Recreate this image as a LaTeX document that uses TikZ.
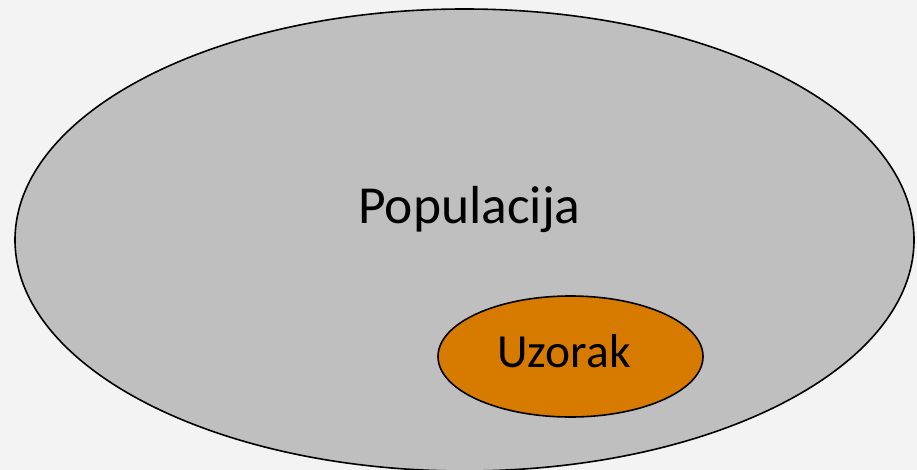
\documentclass[tikz,border=0pt]{standalone}
\usepackage{fontspec}
\setmainfont{Carlito}
\usetikzlibrary{shapes.geometric}
\definecolor{popgray}{HTML}{BFBFBF}
\definecolor{uzorange}{HTML}{D67B00}
\definecolor{bgpaper}{HTML}{F3F3F3}
\tikzset{
  set/.style={ellipse, draw=black, line width=1.6pt, inner sep=0pt},
  setlabel/.style={anchor=base, inner sep=0pt}
}
\begin{document}
\begin{tikzpicture}[x=1pt, y=-1pt]
    \useasboundingbox[fill=bgpaper] (0,0) rectangle (917,470);
    \node[set, fill=popgray, minimum width=899pt, minimum height=462pt] (pop) at (464.5, 240) {};
    \node[setlabel, font=\fontsize{53.5}{62}\selectfont] (poptext) at (469.5, 223) {Populacija};
    \node[set, fill=uzorange, minimum width=265pt, minimum height=121pt] (uz) at (570.5, 356.5) {};
    \node[setlabel, font=\fontsize{47.5}{56}\selectfont] (uztext) at (564, 367) {Uzorak};
\end{tikzpicture}
\end{document}
